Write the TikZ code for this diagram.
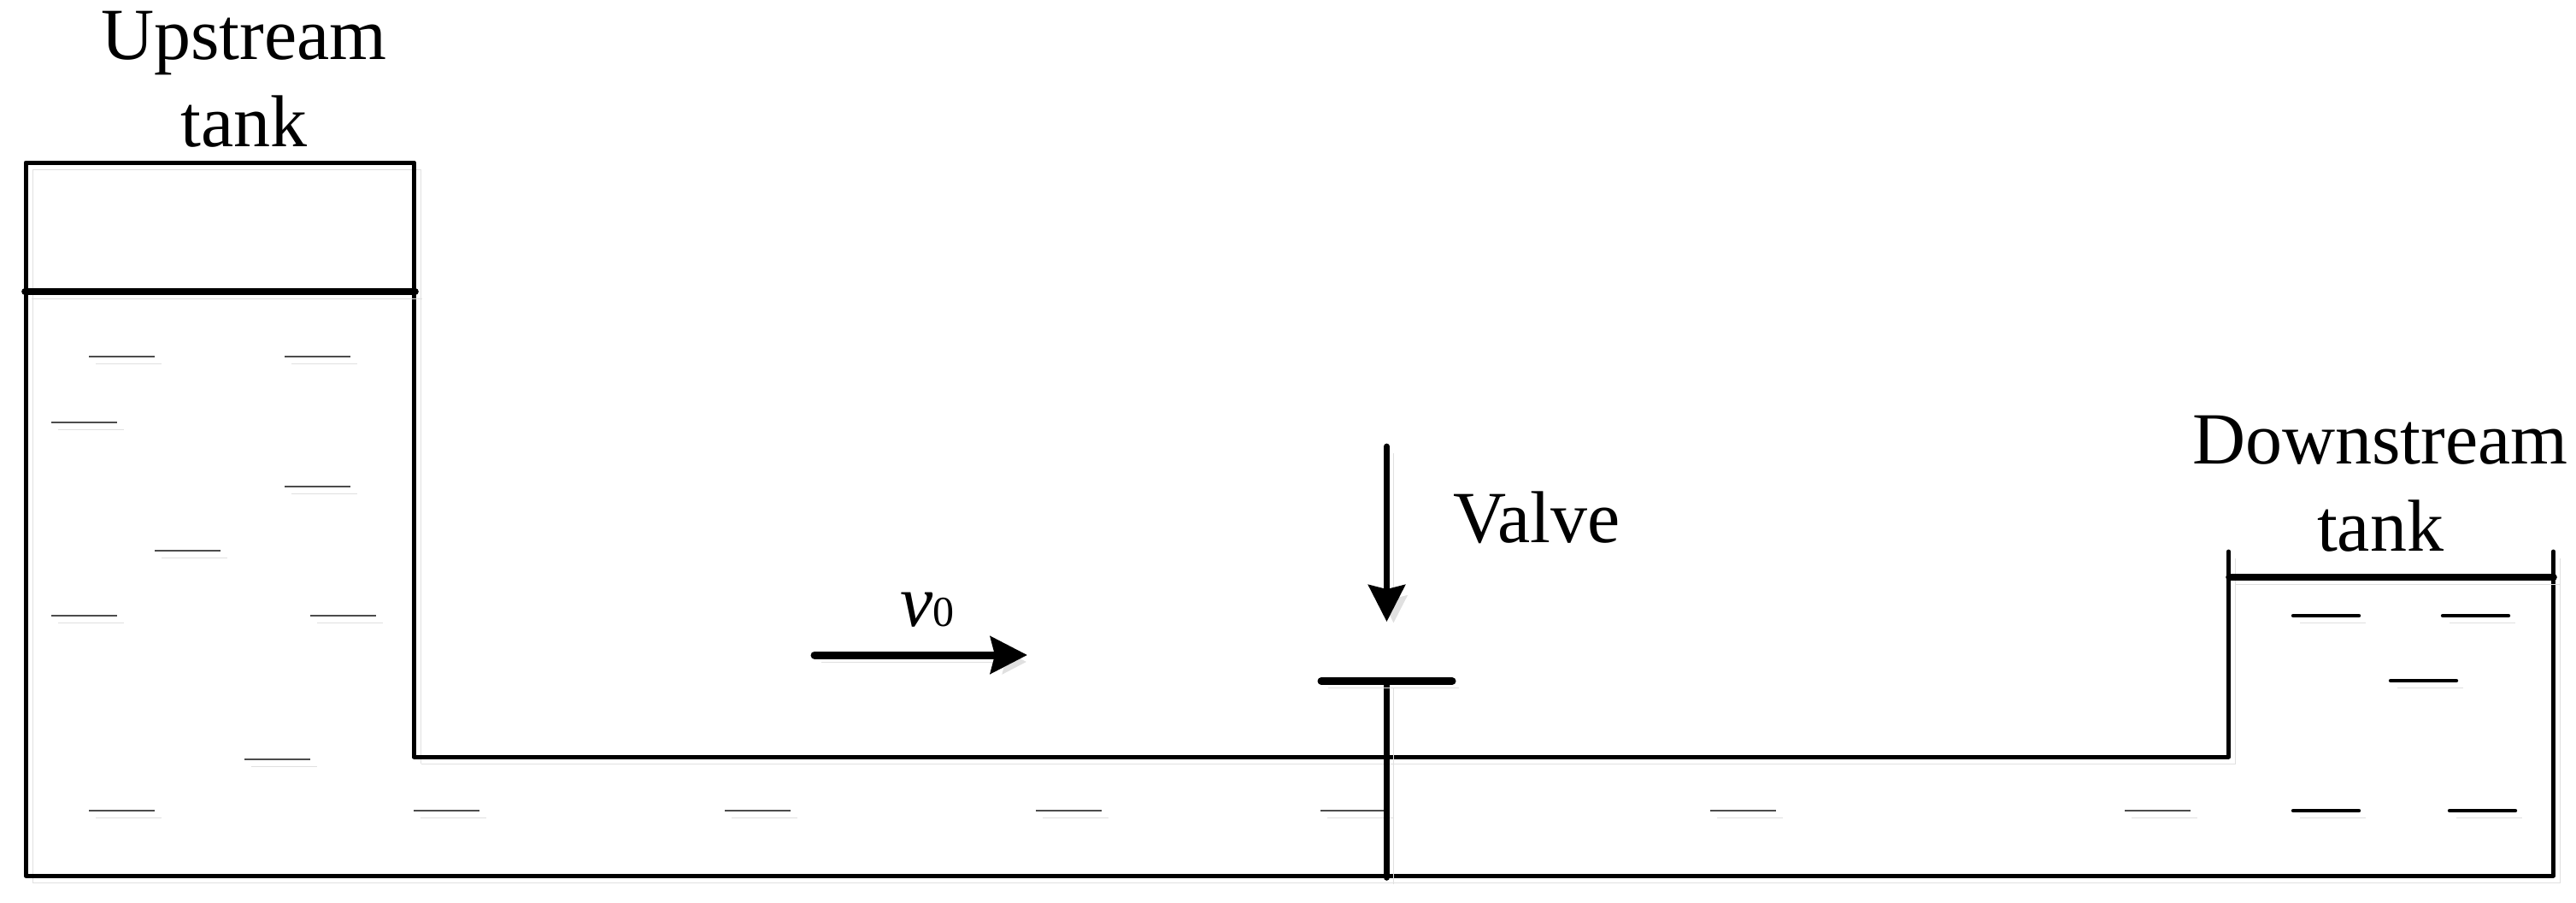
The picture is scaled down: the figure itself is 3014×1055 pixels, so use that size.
\documentclass[tikz,border=0pt]{standalone}
\usepackage{fontspec}
\setmainfont{Liberation Serif}
\usetikzlibrary{arrows.meta}
\definecolor{shadowgray}{HTML}{E0E0E0}
\tikzset{
  sh/.style={preaction={draw=shadowgray,transform canvas={shift={(4pt,-4pt)}}}},
  wall/.style={sh,draw=black,line width=2.5pt,line cap=round,line join=round},
  level/.style={sh,draw=black,line width=3.8pt,line cap=round},
  dashthin/.style={sh,draw=black!70,line width=.75pt},
  dashthick/.style={sh,draw=black,line width=2.2pt,line cap=round},
  label/.style={inner sep=0pt,outer sep=0pt,font=\fontsize{43}{51}\selectfont},
  valvearrow/.style={sh,draw=black,line width=3.4pt,line cap=round,-{Stealth[length=21.5pt,width=21.5pt,inset=2.5pt]}},
  flowarrow/.style={sh,draw=black,line width=4.5pt,line cap=round,-{Stealth[length=21.5pt,width=21.5pt,inset=2.5pt]}},
  valvetop/.style={sh,draw=black,line width=4.5pt,line cap=round},
  valvestem/.style={sh,draw=black,line width=3.8pt,line cap=round}
}
\begin{document}
\begin{tikzpicture}[x=.5pt,y=-.5pt]
\useasboundingbox (0,0) rectangle (3014,1055);
% key points of the vessel outline
\coordinate (utl) at (30,190);
\coordinate (utr) at (484.5,190);
\coordinate (ubl) at (30,1024);
\coordinate (pin) at (484.5,885);
\coordinate (pout) at (2607.5,885);
\coordinate (dtl) at (2607.5,645);
\coordinate (dtr) at (2987.5,645);
\coordinate (dbr) at (2987.5,1024);
% outline
\draw[wall] (pin) -- (utr) -- (utl) -- (ubl) -- (dbr) -- (dtr);
\draw[wall] (pin) -- (pout) -- (dtl);
% water levels
\coordinate (ula) at (29,341);
\coordinate (ulb) at (486,341);
\coordinate (dla) at (2608,675);
\coordinate (dlb) at (2988,675);
\draw[level] (ula) -- (ulb);
\draw[level] (dla) -- (dlb);
% thin water dashes
\foreach \xa/\ya in {104/417,333/417,60/494,333/569,181/644,60/720,363/720,286/888,
                     104/948,484/948,848/948,1212/948,1545/948,2001/948,2486/948}{
  \draw[dashthin] (\xa,\ya) -- ++(77,0);
}
% thick water dashes
\foreach \xa/\ya in {2683/720,2858/720,2797/796,2683/948,2866/948}{
  \draw[dashthick] (\xa,\ya) -- ++(77,0);
}
% valve
\coordinate (vtl) at (1546,796.5);
\coordinate (vtr) at (1699,796.5);
\coordinate (vtop) at (1622.5,796.5);
\coordinate (vbot) at (1622.5,1026);
\draw[valvestem] (vtop) -- (vbot);
\draw[valvetop] (vtl) -- (vtr);
% arrows
\coordinate (vas) at (1622.5,522);
\coordinate (vae) at (1622.5,727);
\coordinate (fas) at (953,766);
\coordinate (fae) at (1202,766);
\draw[valvearrow] (vas) -- (vae);
\draw[flowarrow] (fas) -- (fae);
% labels
\node[label,align=center,anchor=south] (upl) at (285.5,172.7) {Upstream\\tank};
\node[label,align=center,anchor=south] (dnl) at (2785,645) {Downstream\\tank};
\node[label,anchor=base west] (val) at (1700,634) {Valve};
\node[label,anchor=base west] (vel) at (1053,732) {\itshape v\fontsize{25}{25}\selectfont\upshape 0};
\end{tikzpicture}
\end{document}
